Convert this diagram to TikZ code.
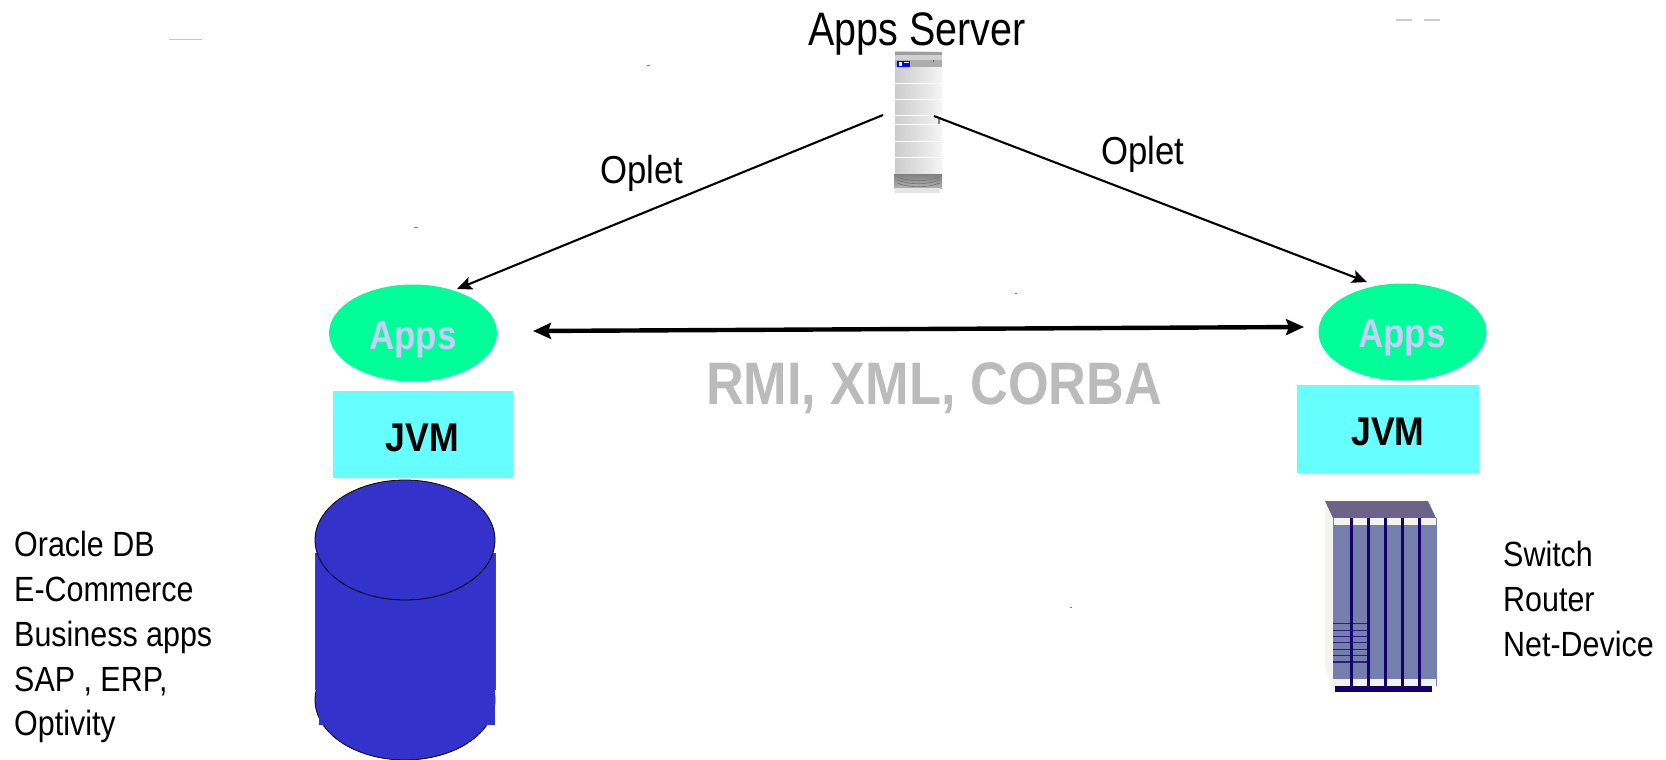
\documentclass[tikz,border=0pt]{standalone}
\usepackage{fontspec}
\usepackage{graphicx}
\setmainfont{Liberation Sans}
\definecolor{appsgreen}{HTML}{00FF99}
\definecolor{jvmcyan}{HTML}{66FFFF}
\definecolor{dbblue}{HTML}{3333CC}
\definecolor{lav}{HTML}{CCCCFF}
\definecolor{rmigrey}{HTML}{BBBBBB}
\definecolor{rfront}{HTML}{747FAE}
\definecolor{rtop}{HTML}{6C6488}
\definecolor{rside}{HTML}{F4F4EE}
\definecolor{rbar}{HTML}{14006C}
\definecolor{rline}{HTML}{2E1F7F}
\newcommand{\sq}[2][0.84]{\scalebox{#1}[1]{#2}}
\tikzset{
  lbl/.style={inner sep=0pt,font=\fontsize{35}{35}\selectfont,anchor=base west},
  appsnode/.style={ellipse,fill=appsgreen,minimum width=168pt,minimum height=97pt,inner sep=0pt},
  appstext/.style={inner sep=0pt,text=lav,font=\fontsize{41}{41}\selectfont\bfseries},
  jvmbox/.style={fill=jvmcyan,inner sep=0pt},
  jvmtext/.style={inner sep=0pt,font=\fontsize{40}{40}\selectfont\bfseries},
  conn/.style={draw=black,line width=2.1pt,-{Stealth[length=15pt,width=13pt,inset=3pt]}},
  speck/.style={draw=black!50,line width=0.6pt}
}
\usetikzlibrary{arrows.meta,shapes.geometric}
\begin{document}
\begin{tikzpicture}[x=1pt,y=-1pt]
\useasboundingbox (0,0) rectangle (1666,760);
% server
\shade[left color=black!20,right color=black!4] (895,52) rectangle (942,174);
\fill[black!38] (895,52) rectangle (942,55);
\fill[black!18] (895,55) rectangle (942,60);
\fill[black!32] (895,60) rectangle (942,67);
\foreach \yy in {83,99,115,124,141,157} \fill[white] (895,\yy) rectangle (942,\yy+1);
\shade[top color=black!50,bottom color=black!30] (894,174) rectangle (942,188);
\foreach \yy in {177,180,183} \draw[black!55,line width=0.6pt] (897,\yy) .. controls (910,\yy+5) and (927,\yy+5) .. (940,\yy);
\fill[black!10] (895,188) rectangle (940,193);
\fill[blue] (897,61) rectangle (910,67);
\fill[white] (899,62.5) rectangle (902,66);
\fill[white] (904,62) rectangle (909,63.5);
\fill[green!70!black] (933,60.5) rectangle (934,62);
\fill[black!50] (938,118) rectangle (940,124);
\node[coordinate] (srvL) at (883,115) {};
\node[coordinate] (srvR) at (934,116) {};
\node[inner sep=0pt,font=\fontsize{47}{47}\selectfont] (title) at (917,34) {\sq{Apps Server}};
% apps
\node[appsnode] (appsL) at (413,333) {};
\node[appsnode] (appsR) at (1402.5,332) {};
\node[appstext] (appsLt) at (413,340) {\sq[0.85]{Apps}};
\node[appstext] (appsRt) at (1402,338) {\sq[0.85]{Apps}};
\node[jvmbox,minimum width=180.5pt,minimum height=87pt] (jvmL) at (422.75,434.5) {};
\node[jvmbox,minimum width=182pt,minimum height=88pt] (jvmR) at (1388,429) {};
\node[jvmtext] (jvmLt) at (422.5,438) {\sq[0.89]{JVM}};
\node[jvmtext] (jvmRt) at (1388,432) {\sq[0.89]{JVM}};
% arrows
\coordinate (tipL) at (457,289);
\coordinate (tipR) at (1367,282);
\draw[conn] (srvL) -- (tipL);
\draw[conn] (srvR) -- (tipR);
\coordinate (dL) at (533,331);
\coordinate (dR) at (1304,327);
\draw[line width=4.4pt,{Stealth[length=18pt,width=16pt,inset=3pt]}-{Stealth[length=18pt,width=16pt,inset=3pt]}] (dL) -- (dR);
\node[inner sep=0pt,text=rmigrey,font=\fontsize{60}{60}\selectfont\bfseries] (rmi) at (934,388) {\sq[0.871]{RMI, XML, CORBA}};
\node[inner sep=0pt,font=\fontsize{39}{39}\selectfont] (op1) at (642,173) {\sq[0.89]{Oplet}};
\node[inner sep=0pt,font=\fontsize{39}{39}\selectfont] (op2) at (1143,154) {\sq[0.89]{Oplet}};
% database
\draw[black,line width=0.8pt,fill=dbblue] (405,700) ellipse (90pt and 60pt);
\draw[black!70,line width=0.8pt,fill=dbblue] (315,553) rectangle (495,689);
\fill[dbblue] (319,680) rectangle (495,725);
\draw[black,line width=0.8pt,fill=dbblue] (405,540) ellipse (90pt and 60pt);
% router
\fill[rside] (1325,501) -- (1333,518) -- (1333,686) -- (1325,668) -- cycle;
\fill[rtop] (1325,501) -- (1428,501) -- (1436,518) -- (1333,518) -- cycle;
\fill[rfront] (1333,518) rectangle (1437,686);
\fill[rside] (1334,518) rectangle (1436,525);
\fill[rside] (1333,679) rectangle (1436,686);
\foreach \yy in {623.7,630.3,636.3,642.7,649.3,655.7,662} \draw[rline,line width=1.3pt] (1333,\yy) -- (1367,\yy);
\foreach \xx in {1351,1368,1385,1402,1419} \fill[rbar] (\xx-1.5,518) rectangle (\xx+1.5,686);
\fill[rbar] (1334.5,686) rectangle (1432,692);
% side text
\node[lbl] (t1) at (14,556) {\sq[0.87]{Oracle DB}};
\node[lbl] (t2) at (14,601) {\sq[0.87]{E-Commerce}};
\node[lbl] (t3) at (14,646) {\sq[0.87]{Business apps}};
\node[lbl] (t4) at (14,691) {\sq[0.87]{SAP , ERP,}};
\node[lbl] (t5) at (14,735) {\sq[0.87]{Optivity}};
\node[lbl] (t6) at (1503,566) {\sq[0.87]{Switch}};
\node[lbl] (t7) at (1503,611) {\sq[0.87]{Router}};
\node[lbl] (t8) at (1503,656) {\sq[0.87]{Net-Device}};
% specks
\draw[color={rgb,255:red,170;green,204;blue,255},line width=1pt] (169,40) -- (202,40);
\draw[black!20,line width=1.2pt] (1396,20) -- (1412,20);
\draw[black!20,line width=1.2pt] (1424,20) -- (1440,20);
\draw[speck] (647,65) -- (650,65);
\draw[speck] (414,227) -- (418,227);
\draw[speck] (1015,293) -- (1017,293);
\draw[speck] (1070,607) -- (1072,607);
\end{tikzpicture}
\end{document}
